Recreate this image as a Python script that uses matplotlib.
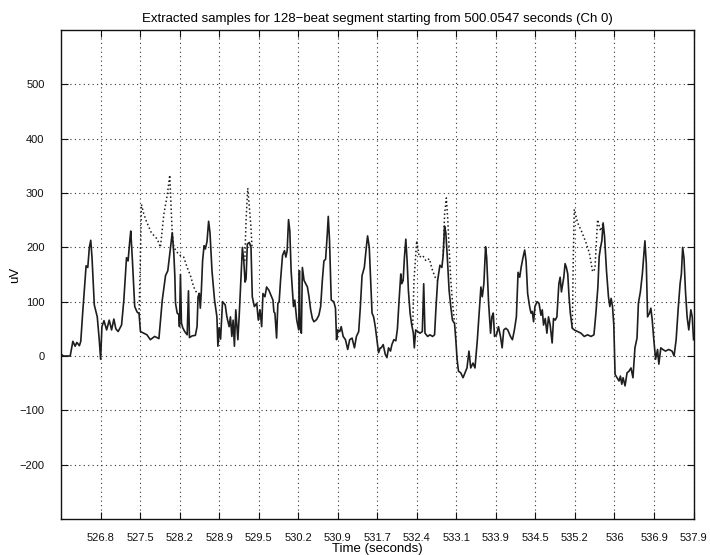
"""
128ビート区間から抽出したサンプル波形 (Ch 0)
- 実線: 抽出サンプル / 点線: 重ね合わせたもう一方のトレース
"""
import numpy as np
import matplotlib
matplotlib.use("Agg")
import matplotlib.pyplot as plt

plt.rcParams["font.family"] = ["Liberation Sans", "DejaVu Sans"]

# ── データ ───────────────────────────────────────────
# 横軸はサンプル番号（1ビート = 40 サンプル）、縦軸は uV
samples = [
    0, 2.3, 9.1, 11.8, 14.1, 15.8, 18.4, 19.8, 21.8, 25.2, 26.9, 28.5, 29.9, 31.2,
    33.5, 36.5, 38.5, 39.9, 41.2, 43.3, 46.0, 48.6, 51.0, 53.3, 55.3, 57.6, 61.1,
    63.4, 66.1, 67.7, 69.4, 70.4, 72.1, 74.4, 76.8, 78.8, 80.2, 83.5, 86.8, 90.2,
    94.6, 98.9, 102.3, 105.6, 107.9, 110.7, 112.4, 114.0, 115.0, 115.7, 117.4,
    119.0, 119.7, 120.7, 121.7, 123.0, 125.0, 127.5, 128.8, 129.8, 132.5, 135.8,
    137.5, 138.5, 139.8, 140.8, 141.8, 143.1, 144.6, 145.9, 147.6, 149.2, 150.6,
    152.6, 155.2, 157.6, 158.6, 159.9, 161.3, 163.3, 166.0, 167.7, 170.0, 171.3,
    172.7, 174.0, 175.3, 176.7, 178.8, 180.1, 182.1, 183.4, 184.8, 186.1, 187.1,
    188.4, 190.4, 192.1, 193.4, 195.5, 197.9, 199.5, 201.2, 202.9, 204.2, 206.2,
    207.9, 210.2, 212.3, 214.3, 215.3, 216.3, 218.0, 219.3, 220.6, 222.0, 224.0,
    226.0, 227.4, 228.7, 230.1, 231.4, 232.7, 235.1, 236.4, 238.4, 240.4, 241.1,
    241.7, 243.1, 244.1, 245.8, 247.5, 249.2, 250.8, 252.5, 254.2, 255.8, 258.5,
    260.8, 262.6, 264.3, 265.9, 267.6, 269.3, 270.3, 271.6, 273.3, 275.9, 277.6,
    278.7, 280.0, 282.0, 283.4, 285.4, 287.7, 290.0, 292.0, 294.4, 296.8, 298.8,
    301.1, 302.8, 304.5, 306.8, 308.8, 310.1, 311.8, 313.6, 314.6, 316.2, 317.9,
    319.6, 321.2, 322.9, 323.9, 325.9, 328.0, 329.7, 331.3, 333.3, 334.7, 336.7,
    338.7, 340.3, 342.0, 343.7, 344.7, 346.1, 347.4, 348.8, 350.1, 351.4, 353.1,
    354.8, 356.4, 357.4, 358.8, 360.8, 363.2, 365.5, 366.9, 368.2, 370.9, 373.2,
    375.9, 377.9, 379.2, 381.0, 383.3, 385.3, 386.6, 388.0, 389.3, 391.0, 392.6,
    394.3, 396.0, 398.1, 399.4, 400.7, 402.1, 404.4, 406.7, 408.7, 410.7, 412.7,
    414.5, 416.8, 418.8, 421.2, 423.5, 424.8, 426.2, 427.8, 429.5, 430.6, 432.6,
    434.6, 435.9, 437.3, 438.6, 440.6, 442.6, 444.6, 446.3, 447.9, 450.0, 452.0,
    454.7, 456.7, 458.7, 460.7, 462.4, 464.1, 465.5, 467.5, 469.1, 470.5, 472.1,
    474.1, 475.5, 476.8, 478.1, 479.5, 481.6, 483.6, 485.6, 486.9, 488.2, 489.9,
    491.6, 493.2, 494.9, 496.9, 498.3, 500.0, 501.7, 503.7, 505.0, 506.3, 508.7,
    510.0, 511.3, 512.7, 514.0, 515.3, 517.3, 519.3, 522.7, 526.1, 529.4, 532.8,
    536.2, 539.2, 541.2, 543.2, 544.5, 545.9, 547.2, 548.5, 549.9, 551.9, 553.9,
    555.3, 556.6, 558.0, 559.3, 560.6, 562.6, 564.6, 566.0, 567.4, 568.7, 570.7,
    572.7, 574.7, 576.7, 578.7, 580.7, 582.8, 584.2, 586.2, 588.2, 589.5, 590.8,
    592.2, 593.5, 595.5, 596.8, 598.2, 599.8, 601.6, 603.6, 604.9, 606.9, 608.9,
    611.6, 614.9, 618.3, 620.3, 622.4, 624.4, 626.4, 627.7, 629.0, 630.4, 631.8,
    633.5, 635.2, 637.3, 638.7, 640.0,
]
uv_solid = [
    3, 0, 0, 27, 18, 25, 19, 27, 81, 166, 163, 200, 213, 181,
    94, 72, 30, -6, 54, 65, 48, 66, 48, 68, 50, 45, 57,
    103, 181, 175, 212, 230, 175, 91, 81, 78, 45, 42, 39, 30,
    36, 32, 103, 148, 157, 200, 227, 188, 148, 97, 79,
    76, 54, 150, 61, 52, 45, 39, 120, 34, 37, 38,
    54, 109, 115, 88, 118, 175, 203, 197, 211, 248, 227,
    157, 103, 72, 18, 52, 31, 100, 94, 72, 54, 72,
    36, 66, 18, 85, 30, 72, 152, 200, 175, 136, 142,
    206, 209, 200, 109, 91, 97, 66, 85, 54, 115, 109,
    127, 121, 112, 103, 81, 79, 33, 97, 100, 139, 185,
    194, 182, 194, 251, 230, 157, 91, 103, 66, 48, 157,
    54, 42, 163, 139, 133, 127, 109, 85, 69, 63, 67,
    75, 91, 139, 175, 178, 224, 257, 212, 103, 100, 88,
    30, 48, 45, 54, 36, 30, 12, 30, 33, 15, 36,
    45, 91, 148, 163, 200, 221, 200, 121, 79, 72, 54,
    30, 6, 15, 15, 21, 3, -3, 15, 9, 21, 30,
    28, 50, 103, 151, 133, 139, 182, 215, 175, 121, 79,
    57, 42, 15, 48, 45, 42, 45, 133, 42, 36, 39,
    36, 39, 85, 139, 167, 163, 185, 239, 227, 175, 121,
    91, 66, 60, 30, -6, -28, -31, -40, -31, -22, 9,
    -22, -13, -22, 30, 91, 127, 109, 133, 201, 182, 97,
    42, 72, 79, 36, 39, 54, 36, 15, 48, 51, 48,
    36, 30, 48, 72, 154, 145, 163, 182, 195, 175, 115,
    91, 79, 82, 63, 91, 100, 97, 75, 85, 57, 69,
    42, 72, 57, 24, 69, 66, 72, 133, 145, 118, 145,
    170, 163, 151, 109, 79, 51, 48, 45, 42, 36, 39,
    36, 39, 79, 127, 183, 200, 212, 245, 221, 157, 109,
    91, 106, 91, 57, -34, -40, -46, -37, -52, -40, -55,
    -31, -28, -22, -40, 15, 33, 97, 118, 151, 182, 212,
    170, 72, 79, 88, 66, 30, -6, 12, -15, 15, 12,
    9, 12, 9, 0, 30, 85, 133, 151, 200, 179, 121,
    72, 48, 85, 72, 30,
]

# 点線トレース（実線と重ならない区間のみ、NaN で区切る）
samples_dotted = [
    78.8, 79.8, 81.2, 83.5, 86.2, 91.2, 97.3, 100.4, 103.9, 107.4, 109.9, 111.4,
    112.4, 114.0, 117.7, 120.7, 124.0, 127.5, 130.8, 134.1, 137.5, 139.8, np.nan,
    185.8, 187.1, 188.8, 190.6, 192.1, 193.1, np.nan,
    355.8, 357.1, 359.8, 362.4, 365.9, 369.2, 372.6, 375.9, 378.5, 381.0, np.nan,
    386.6, 388.0, 389.8, 391.3, 392.6, 394.3, 396.0, 398.1, np.nan,
    517.3, 518.3, 519.3, 522.7, 526.1, 531.1, 534.5, 537.9, 540.2, 542.9, 545.9, 548.5,
]
uv_dotted = [
    78, 150, 279, 262, 248, 227, 215, 200, 261, 297, 333, 266,
    227, 200, 190, 185, 182, 163, 148, 127, 115, 115, np.nan,
    175, 250, 309, 270, 236, 200, np.nan,
    57, 140, 212, 182, 185, 175, 179, 157, 145, 139, np.nan,
    185, 260, 291, 250, 200, 140, 100, 60, np.nan,
    51, 180, 270, 245, 232, 209, 190, 155, 160, 251, 230, 245,
]

# 目盛り（ビート境界のサンプル番号と、その時刻ラベル）
beat_ticks = [40, 80, 120, 160, 200, 240, 280, 320, 360, 400, 440, 480, 520, 560, 600, 640]
beat_labels = ["526.8", "527.5", "528.2", "528.9", "529.5", "530.2", "530.9", "531.7",
               "532.4", "533.1", "533.9", "534.5", "535.2", "536", "536.9", "537.9"]
uv_ticks = [-200, -100, 0, 100, 200, 300, 400, 500]

LINE_COLOR = "#1e1e1e"

# ── 描画 ─────────────────────────────────────────────
fig = plt.figure(figsize=(7.1, 5.55), dpi=100)
ax = fig.add_axes([0.0862, 0.0649, 0.8906, 0.881])

ax.plot(samples_dotted, uv_dotted, linestyle=":", color=LINE_COLOR, lw=1.1)
ax.plot(samples, uv_solid, linestyle="-", color=LINE_COLOR, lw=1.2)

ax.set_xlim(0, 640)
ax.set_ylim(-300, 600)
ax.set_xticks(beat_ticks)
ax.set_xticklabels(beat_labels)
ax.set_yticks(uv_ticks)

ax.grid(True, linestyle=(0, (1, 3)), color="#333333", lw=0.8)
ax.tick_params(direction="in", top=True, right=True, length=5, width=0.8,
               labelsize=8, colors="#111111")
ax.tick_params(axis="x", pad=10)
ax.tick_params(axis="y", pad=12)
for sp in ax.spines.values():
    sp.set_linewidth(1.0)
    sp.set_color("#111111")

ax.set_title("Extracted samples for 128\u2212beat segment starting from 500.0547 seconds (Ch 0)",
             fontsize=9.5, pad=6)
ax.set_xlabel("Time (seconds)", fontsize=9.5, labelpad=0)
ax.set_ylabel("uV", fontsize=9.5, labelpad=-1)

fig.savefig("out.png", dpi=100, facecolor="white")
plt.close(fig)
